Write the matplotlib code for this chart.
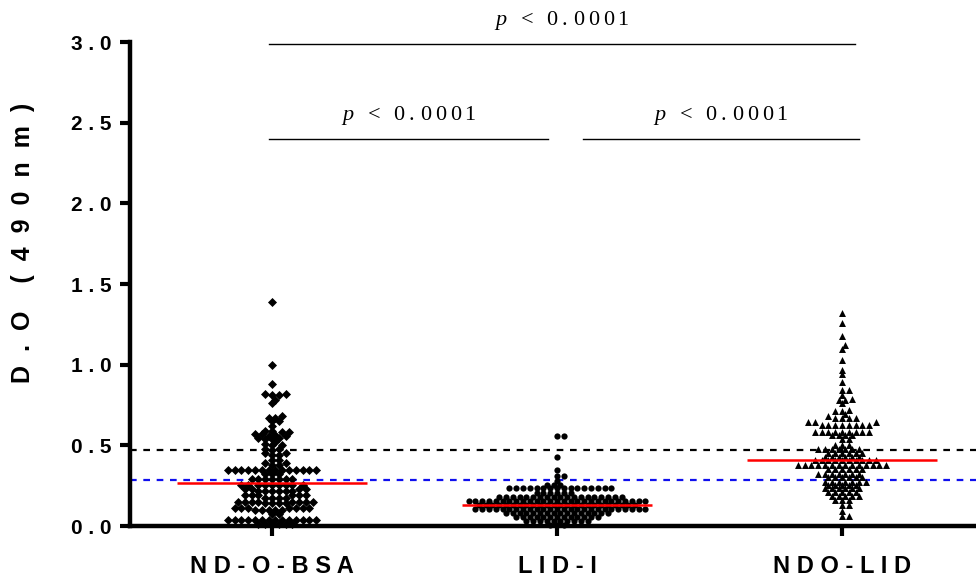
import numpy as np
import matplotlib
matplotlib.use('Agg')
import matplotlib.pyplot as plt

# ---------------- data ----------------
categories = ['ND-O-BSA', 'LID-I', 'NDO-LID']
tick_labels = ['N D - O - B S A', 'L I D - I', 'N D O - L I D']
markers = ['D', 'o', '^']

nd_o_bsa = [
    1.39, 1.00, 0.88, 0.82, 0.82, 0.81, 0.81, 0.78, 0.76,
    0.68, 0.67, 0.67, 0.65, 0.65, 0.62, 0.59, 0.59, 0.58, 0.58, 0.57, 0.57,
    0.565, 0.56, 0.56, 0.545, 0.545, 0.54, 0.54, 0.52, 0.51, 0.50, 0.50,
    0.48, 0.48, 0.47, 0.45, 0.45, 0.44, 0.44, 0.41, 0.41, 0.39, 0.39, 0.38, 0.38,
    0.35, 0.35, 0.35, 0.35, 0.35, 0.35, 0.35, 0.35, 0.35, 0.35, 0.35, 0.35, 0.35, 0.35,
    0.325, 0.325, 0.325,
    0.29, 0.29, 0.29, 0.29, 0.29, 0.29, 0.29,
    0.255, 0.255, 0.255, 0.255, 0.255, 0.255, 0.255, 0.255, 0.255,
    0.23, 0.23, 0.23, 0.23, 0.22, 0.22, 0.22, 0.22, 0.22, 0.22,
    0.19, 0.19, 0.19, 0.19, 0.19, 0.19, 0.175, 0.175, 0.175, 0.175,
    0.15, 0.15, 0.15, 0.15, 0.15, 0.15, 0.15, 0.15, 0.14, 0.14, 0.14, 0.14,
    0.11, 0.11, 0.11, 0.11, 0.11, 0.11, 0.11, 0.10, 0.10, 0.10, 0.10, 0.10,
    0.075, 0.075,
    0.04, 0.04, 0.04, 0.04, 0.04, 0.04, 0.04, 0.04, 0.04, 0.04, 0.04, 0.04, 0.04, 0.04,
    0.015, 0.015, 0.015, 0.015, 0.015, 0.015,
]

lid_i = [
    0.56, 0.56, 0.43, 0.35, 0.31, 0.31, 0.28, 0.255, 0.255, 0.255,
    0.234, 0.234, 0.234, 0.234, 0.234, 0.234, 0.234, 0.234,
    0.234, 0.234, 0.234, 0.234, 0.234, 0.234, 0.234, 0.234,
    0.205, 0.205, 0.205, 0.205, 0.205, 0.205,
    0.18, 0.18, 0.18, 0.18, 0.18, 0.18, 0.18, 0.18, 0.18, 0.18,
    0.18, 0.18, 0.18, 0.18, 0.18, 0.18, 0.18, 0.18, 0.18,
    0.155, 0.155, 0.155, 0.155, 0.155, 0.155, 0.155, 0.155, 0.155, 0.155,
    0.155, 0.155, 0.155, 0.155, 0.155, 0.155, 0.155, 0.155, 0.155, 0.155,
    0.155, 0.155, 0.155, 0.155, 0.155, 0.155, 0.155,
    0.13, 0.13, 0.13, 0.13, 0.13, 0.13, 0.13, 0.13, 0.13, 0.13,
    0.13, 0.13, 0.13, 0.13, 0.13, 0.13, 0.13, 0.13, 0.13, 0.13,
    0.13, 0.13, 0.13, 0.13,
    0.105, 0.105, 0.105, 0.105, 0.105, 0.105, 0.105, 0.105, 0.105, 0.105,
    0.105, 0.105, 0.105, 0.105, 0.105, 0.105, 0.105, 0.105, 0.105, 0.105,
    0.105, 0.105, 0.105, 0.105, 0.105, 0.105,
    0.08, 0.08, 0.08, 0.08, 0.08, 0.08, 0.08, 0.08,
    0.08, 0.08, 0.08, 0.08, 0.08, 0.08, 0.08, 0.08,
    0.055, 0.055, 0.055, 0.055, 0.055, 0.055, 0.055, 0.055, 0.055, 0.055, 0.055, 0.055, 0.055,
    0.03, 0.03, 0.03, 0.03, 0.03, 0.03, 0.03, 0.03, 0.03, 0.03,
    0.005, 0.005, 0.005,
]

ndo_lid = [
    1.32, 1.26, 1.18, 1.12, 1.10, 1.03, 0.97, 0.94, 0.89, 0.84, 0.84, 0.81,
    0.79, 0.78, 0.78, 0.76, 0.72, 0.715, 0.715, 0.695, 0.68, 0.67, 0.67, 0.67, 0.67,
    0.645, 0.645, 0.645,
    0.626, 0.626, 0.626, 0.626, 0.626, 0.626, 0.626, 0.626,
    0.585, 0.585, 0.585, 0.585, 0.585, 0.585, 0.585, 0.585, 0.585,
    0.565, 0.565, 0.565, 0.565,
    0.54, 0.54, 0.50, 0.50, 0.50,
    0.475, 0.475, 0.475, 0.475, 0.475, 0.475, 0.475,
    0.45, 0.45, 0.45, 0.45, 0.45, 0.45,
    0.43, 0.43, 0.43, 0.43, 0.43, 0.43,
    0.41, 0.41, 0.41, 0.41, 0.41, 0.41, 0.41, 0.41, 0.41, 0.41,
    0.38, 0.38, 0.38, 0.38, 0.38, 0.38, 0.38, 0.38, 0.38, 0.38, 0.38, 0.38, 0.38, 0.38,
    0.355, 0.355, 0.355, 0.355, 0.355, 0.355,
    0.325, 0.325, 0.325, 0.325, 0.325, 0.325, 0.325,
    0.305, 0.305, 0.305, 0.305, 0.305, 0.305,
    0.275, 0.275, 0.275, 0.275, 0.275, 0.275, 0.275,
    0.255, 0.255, 0.255, 0.255, 0.255,
    0.235, 0.235, 0.235, 0.235, 0.235, 0.235,
    0.21, 0.21, 0.21, 0.21, 0.21,
    0.185, 0.185, 0.185, 0.185, 0.185,
    0.16, 0.16, 0.16, 0.13, 0.13, 0.095, 0.06, 0.06,
]

medians = [0.267, 0.13, 0.41]
cutoff_black = 0.47
cutoff_blue = 0.285
y_ticks = [0.0, 0.5, 1.0, 1.5, 2.0, 2.5, 3.0]
comparisons = [(0, 1), (1, 2), (0, 2)]
comparison_levels = [2.40, 2.40, 2.99]


def swarm_offsets(vals, sx, sy, step=3.4, d=4.6):
    """Greedy Prism-like scatter layout on a half-spacing lattice (in pixels).
    Returns horizontal offsets in data units."""
    v = np.asarray(vals, dtype=float)
    order = np.argsort(v, kind='stable')
    px_list, py_list = [], []
    offs = np.zeros(len(v))
    for idx in order:
        y = v[idx] * sy
        px = np.array(px_list)
        py = np.array(py_list)
        if py.size:
            m = np.abs(py - y) < d
            cx, cy = px[m], py[m]
        else:
            cx, cy = px, py
        # prefer the side that currently holds fewer neighbours
        first = 1 if np.sum(cx > 0) <= np.sum(cx < 0) else -1
        chosen = 0.0
        done = False
        for k in range(0, 400):
            for sgn in ((first,) if k == 0 else (first, -first)):
                c = sgn * k * step
                if cx.size == 0 or np.all((cx - c) ** 2 + (cy - y) ** 2 >= d * d - 1e-9):
                    chosen = c
                    done = True
                    break
            if done:
                break
        offs[idx] = chosen / sx
        px_list.append(chosen)
        py_list.append(y)
    return offs


# ---------------- figure ----------------
plt.rcParams['mathtext.fontset'] = 'custom'
plt.rcParams['mathtext.it'] = 'Liberation Serif:italic'
plt.rcParams['mathtext.rm'] = 'Liberation Serif'

fig = plt.figure(figsize=(9.76, 5.82), dpi=100)
ax = fig.add_axes([130 / 976, 56 / 582, 846 / 976, 484 / 582])
ax.set_xlim(-0.498, 2.47)
ax.set_ylim(0, 3.0)

# pixel scale of the data axes
p0 = ax.transData.transform((0, 0))
p1 = ax.transData.transform((1, 1))
sx, sy = p1[0] - p0[0], p1[1] - p0[1]

groups = [nd_o_bsa, lid_i, ndo_lid]
msizes = {'D': 4.6, 'o': 4.5, '^': 5.0}
for i, (vals, mk) in enumerate(zip(groups, markers)):
    xs = i + swarm_offsets(vals, sx, sy)
    ax.scatter(xs, vals, marker=mk, s=msizes[mk] ** 2, color='black',
               linewidths=0, zorder=3, clip_on=False)

# cutoff lines
ax.axhline(cutoff_black, color='black', lw=1.6, ls=(0, (3, 3)), zorder=2)
ax.axhline(cutoff_blue, color='#1010ee', lw=1.6, ls=(0, (3, 3)), zorder=2)

# medians
for i, m in enumerate(medians):
    ax.plot([i - 0.333, i + 0.333], [m, m], color='red', lw=1.8, zorder=4,
            solid_capstyle='butt')

# significance bars
p_label = r'$\mathit{p}\ \ \mathrm{<}\ \ 0\:.\:0\:0\:0\:1$'
bar_ext = {(0, 1): (-0.01, 0.97), (1, 2): (1.09, 2.06), (0, 2): (-0.01, 2.046)}
for (a, b), lev in zip(comparisons, comparison_levels):
    x0, x1 = bar_ext[(a, b)]
    ax.plot([x0, x1], [lev, lev], color='black', lw=1.0, clip_on=False, zorder=2)
    ax.text((x0 + x1) / 2, lev + 0.075, p_label, ha='center', va='bottom',
            fontsize=16, clip_on=False)

ax.set_ylabel('D  .  O    (  4  9  0  n  m  )', fontsize=18, fontweight='bold',
              family='Liberation Sans')
ax.yaxis.set_label_coords(-0.112, 0.585)

ax.set_xticks(range(len(categories)))
ax.set_xticklabels(tick_labels, fontsize=17, fontweight='bold',
                   family='Liberation Sans')
ax.set_yticks(y_ticks)
ax.set_yticklabels([' . '.join(f'{t:.1f}'.split('.')) for t in y_ticks],
                   fontsize=15, fontweight='bold', family='Liberation Sans')

for s in ['top', 'right']:
    ax.spines[s].set_visible(False)
for s in ['left', 'bottom']:
    ax.spines[s].set_linewidth(3.2)
ax.tick_params(axis='both', length=7, width=3, pad=6)
ax.tick_params(axis='x', pad=14)

fig.savefig('out.png', dpi=100)
